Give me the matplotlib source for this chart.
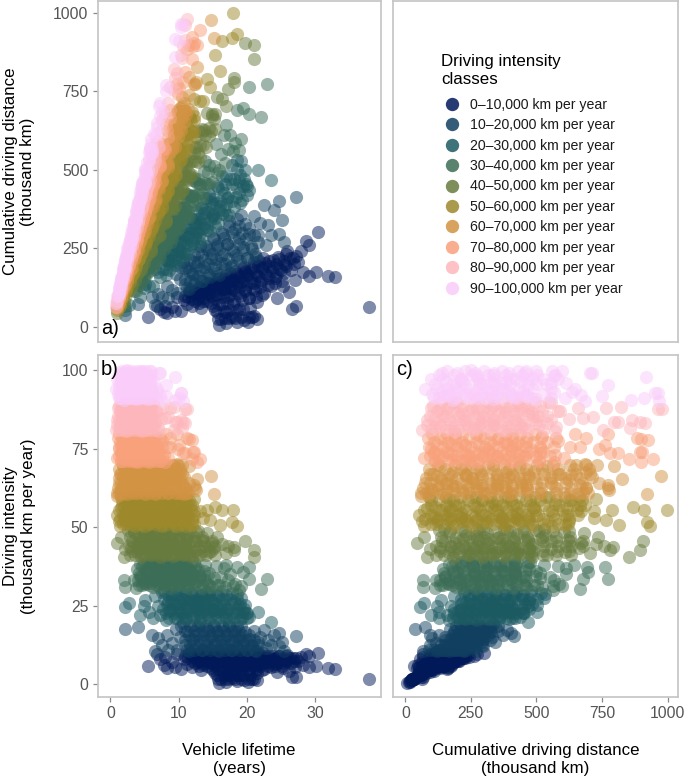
import matplotlib
matplotlib.use("Agg")
import matplotlib.pyplot as plt
from matplotlib.lines import Line2D

plt.rcParams["font.family"] = ["Liberation Sans", "DejaVu Sans"]

class_00 = [(37.9,1.7),(32.9,4.8),(31.9,5.1),(30.5,9.9),(29.1,5.6),(30.1,5.8),(29.1,9),(26.6,2.2),(27.3,2.4),(5.5,5.8),
    (15.9,.3),(21.5,3.7),(6.9,9.5),(7.2,8),(7.9,6),(8,8.5),(8.3,5.2),(9,7),(9.5,5.5),(9.8,9.7),(10.3,4.9),(10.8,8),
    (11.2,6.5),(11.5,9.8),(12,5.5),(12.3,8.5),(12.8,7),(13,9.5),(13.3,4.5),(13.6,6),(13.9,8.2),(14.2,9.9),(14.5,7.2),
    (14.8,5.2),(15.1,9),(15.3,3.5),(15.5,6.5),(15.8,8),(16,9.8),(16.2,1.5),(16.4,4.5),(16.6,7.2),(16.8,9),(17,0.8),
    (17,2.8),(17.2,5.5),(17.4,8.2),(17.6,9.7),(17.8,1.8),(18,4),(18.2,6.5),(18.4,8.8),(18.6,0.9),(18.8,3),(19,5.2),
    (19.2,7.5),(19.4,9.5),(19.6,1.2),(19.8,6),(20,8.5),(20.2,0.8),(20.4,4.5),(20.6,7),(20.8,1.5),(21,9.2),(21.2,5.5),
    (21.4,7.8),(21.5,1.2),(21.8,9.7),(22,6.5),(22.3,8.5),(22.6,4.8),(22.9,7.2),(23.2,9),(23.5,5.5),(23.8,8),(24.1,6.5),
    (24.4,3.8),(24.7,8.8),(25,7.2),(25.3,5.2),(25.6,7.8),(25.9,9.3),(26.2,4.2),(26.5,6.8),(26.8,8.2),(27.1,5.5),
    (27.5,7.5),(27.9,8.7),(28.3,6.2),(28.7,9.5),(15,8.8),(16.3,7.8),(17.5,7),(18.7,8),(19.7,8.9),(13.5,9),(14.6,8.3)]

class_01 = [(2.2,17.5),(4.1,18.1),(6.1,15.7),(6.6,10.4),(8.3,15.7),(7.6,12.5),(8.5,10.8),(7,14.8),(9,13),(9.6,17.6),
    (9.8,11),(10.2,15),(10.6,19.5),(10.9,12.5),(11.2,17),(11.5,10.5),(11.9,14.5),(12.2,18.7),(12.5,12),(12.9,16),
    (13.2,19.5),(13.5,10.8),(13.8,13.8),(14.1,17.5),(14.4,11.5),(14.7,15),(15,18.8),(15.3,12.8),(15.6,16.5),(15.9,10.5),
    (16.2,14),(16.5,18),(16.8,12),(17.1,15.5),(17.4,19.3),(17.7,10.8),(18,13.5),(18.3,17),(18.6,11.8),(18.9,15),
    (19.2,18.5),(19.5,13),(19.8,16.5),(20.1,11),(20.4,14.5),(20.7,12),(21,16.8),(21.3,10.5),(21.6,13.5),(22,15),
    (22.5,17.3),(22.8,11.5),(23.1,14),(23.5,12.5),(24,15.5),(24.8,16.2),(24.7,12),(25.2,13.5),(27.2,15.2),(25.5,10.6)]

class_02 = [(2.2,24.7),(2.7,25.8),(4.4,22),(4.9,25),(5.1,26.8),(5.6,23),(6.2,21),(6.6,28),(7,25),(7.2,22),(7.8,29.5),
    (8.1,20.5),(8.4,26),(8.8,23.5),(9.1,28.7),(9.4,21),(9.8,25.5),(10.1,29.5),(10.4,23),(10.8,27),(11.1,20.8),(11.4,25),
    (11.8,29),(12.1,22),(12.4,26.5),(12.8,23.8),(13.1,20.5),(13.4,28.5),(13.8,25),(14.1,22),(14.4,29.3),(14.8,26.8),
    (15.1,23.5),(15.4,20.8),(15.8,28),(16.1,25),(16.4,22),(16.8,27),(17.1,24),(17.4,20.5),(17.8,29),(18.1,26),(18.4,22.5),
    (18.8,24.8),(19,20.8),(19.2,27.5),(19.5,23),(19.8,25.3),(20,21),(20.3,21.5),(19.9,22.8),(18.5,28.8),(16.3,29.5),
    (13,26.5),(10.5,21),(21.7,23.1),(23.5,19.9),(15,24),(17,23),(12.5,24.5)]

class_03 = [(2,33),(2.2,30.9),(3.7,30.5),(3.5,33),(3.9,36.5),(4.2,31.5),(4.5,34),(4.9,38.5),(5.2,32),(5.5,35.8),(5.9,39.5),
    (6.2,31),(6.5,33.5),(6.9,37.5),(7.2,30.5),(7.5,35),(7.9,39),(8.2,32.5),(8.5,36.5),(8.9,30.5),(9.2,34),(9.5,38),
    (9.9,31.5),(10.2,36),(10.5,39.5),(10.9,33),(11.2,37),(11.5,30.5),(11.9,35),(12.2,39),(12.5,32.5),(12.9,36.5),(13.2,34),
    (13.5,30.5),(13.9,38),(14.2,32),(14.5,35.5),(14.9,31),(15.2,33.8),(15.5,37.5),(15.9,31.5),(16.2,34),(16.6,36.9),
    (16.8,31),(17.2,33),(17.5,35),(18,31.2),(18.6,37.2),(18.8,30),(18.3,32),(19.5,35.8),(20.3,33.4),(20.4,37.4),(23,33.6),
    (22.1,30.2),(19.2,31.2),(16.9,38),(6.5,39.8),(10,32.8),(8,34.5),(12,33.5)]

class_04 = [(1,45),(2,40.6),(1.5,47),(2.2,43),(2.6,49),(2.9,41),(3.1,45.5),(3.5,48),(3.9,42),(4.2,45),(4.5,40.5),(4.9,47.5),
    (5.2,43.5),(5.5,49.5),(5.9,41),(6.2,45.5),(6.5,48),(6.9,43),(7.2,40.5),(7.5,46.5),(7.9,49),(8.2,42),(8.5,45),(8.9,47.8),
    (9.2,40.8),(9.5,43.5),(9.9,46),(10.2,49),(10.5,41.5),(10.9,44.5),(11.2,47.5),(11.5,42.5),(11.9,40.6),(12.2,45.5),
    (12.5,48.5),(12.9,43),(13.2,41),(13.5,46),(13.9,44),(14.2,48),(14.5,42),(14.9,45),(15.2,43.5),(15.6,47),(15.4,41),
    (16.3,44.5),(16.9,41.7),(17.2,44),(18.1,43.8),(18.2,42.8),(19.8,45.7),(21,42.7),(21.1,40.4),(7,44.8),(9,44),(4,44),
    (6,43.5),(11,43),(8,41.5),(10,41.8),(3,43.5),(5.7,47.2)]

class_05 = [(1.2,52),(1,54),(1.4,50.5),(1.5,56),(1.7,58.5),(2,53),(2.3,51),(2.5,55.5),(2.8,59),(3,52.5),(3.3,57),(3.6,50.5),
    (3.9,54.5),(4.2,59.5),(4.5,52),(4.8,56.5),(5.1,50.5),(5.4,54),(5.7,58),(6,51.5),(6.3,55.5),(6.6,59.5),(6.9,53),(7.2,57),
    (7.5,50.5),(7.8,54.5),(8.1,58.5),(8.4,52),(8.7,56),(9,59.5),(9.3,53.5),(9.6,50.5),(9.9,57.5),(10.2,55),(10.5,52),
    (10.8,58.5),(11.1,50.5),(11.4,54),(11.7,57),(12,52),(12.3,59),(12.2,55),(12,50.8),(13.1,55),(14.2,55.5),(14.6,52.3),
    (15.4,56.3),(16.4,55.5),(16.1,50.7),(17.8,51.7),(18,55.5),(18.6,50.2),(13.6,53),(6,57),(8,53),(4,53),(3,55),(11,56),
    (5,58.5),(7,51.5)]

class_06 = [(1,59.9),(1,61),(1.2,64),(1.4,67),(1.6,62),(1.9,69.5),(2.1,65),(2.4,60.5),(2.7,67.5),(3,63),(3.3,69),(3.6,60.8),
    (3.9,65.5),(4.2,68),(4.5,62.5),(4.8,69.7),(5.1,60.5),(5.4,65),(5.7,67.5),(6,63),(6.3,69),(6.6,60.5),(6.9,65.5),(7.2,68),
    (7.5,62),(7.8,69.5),(8.1,64.5),(8.4,60.8),(8.7,67),(9,63),(9.3,69.8),(9.6,65),(9.9,61),(10.2,67.5),(10.5,69.8),
    (10.5,63.5),(10.8,60.5),(10.8,66),(11,62.5),(11.4,61),(12.2,63.4),(12.6,61.8),(12.7,65.2),(14.7,66.4),(15.2,60.6),
    (2.5,64),(4,64.5),(5.5,62.5),(7,63.5),(8.5,66),(3.5,66.5),(6,66),(9.5,66.5),(11.5,64.2),(12.4,62.3),(11.5,69.3),
    (9.8,70),(1.5,60.5)]

class_07 = [(1,72),(1.1,78.5),(1.3,75),(1.6,71),(1.9,78),(2.1,74),(2.4,79.5),(2.7,71.5),(3,76),(3.3,73),(3.6,79),(3.9,70.7),
    (4.2,75),(4.5,78),(4.8,72.5),(5.1,79.5),(5.4,74.5),(5.7,70.8),(6,77),(6.3,72.5),(6.6,79),(6.9,75),(7.2,71),(7.5,77.5),
    (7.8,73),(8.1,79.7),(8.3,75.5),(8,70.8),(8.8,75.6),(8.4,72),(8.8,78.5),(9.7,79.6),(9.9,74.8),(10,76),(10.6,73.7),(11,73.7),
    (11.5,78),(11.3,78.3),(11.9,77.7),(11.9,71.7),(12.1,74),(12.2,74),(12.7,70.8),(13.2,71.6),(2.5,76),(4,74),(5.5,76),(7,73.5),
    (1.5,73.5),(3.4,71),(6.5,74.5),(5,77)]

class_08 = [(.8,81),(1,84),(1.1,88),(1.4,82),(1.7,85.5),(2,89.5),(2.3,80.5),(2.6,84),(2.9,87.5),(3.2,81.5),(3.5,85),(3.8,89),
    (4.1,82.5),(4.4,86.5),(4.7,80.5),(5,84),(5.3,88),(5.6,81.5),(5.9,85.5),(6.2,89.5),(6.5,83),(6.8,87),(7.1,80.5),(7.4,84.5),
    (7.5,88),(7,82),(8,84.6),(8.4,85),(8.7,87.8),(9.3,88.3),(9.3,81),(9.5,83.6),(9.7,83.5),(10.3,84),(10.5,81.7),(10.7,83.5),
    (11,83),(11,87.5),(11.2,87.5),(2.5,86),(4,84.5),(5.5,86),(3.5,83),(6,83),(1.5,87.5),(4.8,89)]

class_09 = [(.8,94),(1,97),(1.2,91),(1.4,99),(1.7,94),(2,90.5),(2.2,97),(2.5,100),(2.8,92.5),(3.1,95.5),(3.4,98.5),(3.7,90.8),
    (4,94),(4.3,97),(4.6,99.8),(4.9,92),(5.2,95.5),(5.5,90.8),(5.8,98),(6.1,93),(6,99.8),(6.4,96),(6.7,91),(6.9,94),(7.2,99),
    (7.3,92),(6.85,93),(7.1,99),(7.6,90),(8.1,95.2),(8.2,91.7),(9.4,97.7),(9.5,90.5),(10,91.2),(10.3,92.6),(10.4,92.8),
    (10.7,90.3),(2,95),(3.5,93),(5,97.5),(3,91),(4.5,91.5),(1.6,92),(2.8,98),(3.8,96),(5.8,96)]

# crowded parts of each band: (intensity, lifetimes seen at about that intensity)
dense_00 = [(9.8,[11.7,13,14.4,15.6,17,18.3,19.6,21,22.4]),
    (9,[11,12.2,13.3,14.3,15.5,16.4,17.5,18.6,19.7,20.6,21.7,22.7,23.8,24.6,25.7]),
    (8.3,[11.4,12.6,13.7,14.8,15.9,16.9,18,19,20.1,21.2,22.2,23.3,24.3,25.4,26.4,27.2]),
    (7.5,[12,13.1,14.2,15.2,16.3,17.4,18.5,19.5,20.6,21.6,22.7,23.7,24.8,25.8,26.9]),
    (6.7,[12.4,13.6,14.7,15.8,16.8,17.9,19,20.1,21.1,22.2,23.2,24.3,25.4]),
    (5.8,[13,14.2,15.4,16.5,17.6,18.7,19.8,20.9,22,23.1,24.2,25.2]),
    (4.5,[15,16,17.1,18.2,19.3,20.3,21.3,22.3]),
    (3,[15.6,16.6,17.5,18.5,19.5,20.5]),
    (1.6,[15.8,16.8,17.4,18.3,19.2,20.3,21])]
dense_01 = [(11,[11.2,12.3,13.4,14.6,15.7,16.8,17.9,19,20.1,21.2]),
    (12.5,[11.7,12.9,14,15.1,16.2,17.3,18.4,19.5,20.6,21.7]),
    (14,[10.9,12.1,13.2,14.3,15.5,16.6,17.7,18.8,19.9,21]),
    (15.5,[11.5,12.6,13.7,14.9,16,17.1,18.2,19.3,20.4]),
    (17,[11,12.2,13.4,14.5,15.6,16.7,17.8,18.9]),
    (18.5,[10.4,11.6,12.8,14,15.2,16.3,17.4,18.5])]
dense_02 = [(21,[8.6,9.8,11,12.2,13.4,14.6,15.8,17,18.2,19.3]),
    (22.5,[8.2,9.4,10.6,11.8,13,14.2,15.4,16.6,17.8,18.9,20]),
    (24,[7.7,8.9,10.1,11.3,12.5,13.7,14.9,16.1,17.3,18.5,19.6]),
    (25.5,[8.3,9.5,10.7,11.9,13.1,14.3,15.5,16.7,17.9,19]),
    (27,[7.9,9.1,10.3,11.5,12.7,13.9,15.1,16.3,17.5,18.6]),
    (28.5,[8.5,9.7,10.9,12.1,13.3,14.5,15.7,16.9]),
    (23.2,[8.6,9.9,11.2,12.4,13.6,14.8,16]),
    (26.2,[8.9,10.2,11.4,12.6,13.8,15]),
    (29.3,[7.6,9.3,11,12.6,14])]
dense_03 = [(31.5,[4.6,5.7,6.8,7.9,9,10.1,11.2,12.3,13.4,14.5,15.6]),
    (33,[4,5.1,6.2,7.3,8.4,9.5,10.6,11.7,12.8,13.9]),
    (34.5,[4.4,5.5,6.6,7.7,8.8,9.9,11,12.1,13.2,14.3]),
    (36,[5,6.1,7.2,8.3,9.4,10.5,11.6,12.7,13.8]),
    (37.5,[4.7,5.8,6.9,8,9.1,10.2,11.3,12.4]),
    (39,[5.4,6.5,7.6,8.7,9.8,10.9,12]),
    (32.3,[4.9,6,7.1,8.1,9.2,10.3,11.4]),
    (35.3,[4.2,5.3,6.4,7.5,8.6,9.7,10.8,11.9]),
    (38.2,[4.4,5.6,6.7,7.8,8.9,10,11])]
dense_04 = [(41,[3.6,4.7,5.9,7.1,8.2,9.4,10.6,11.7,12.8,14]),
    (42.5,[3.1,4.3,5.5,6.6,7.8,9,10.1,11.3,12.4,13.6,14.7]),
    (44,[2.7,3.9,5,6.2,7.4,8.5,9.7,10.9,12,13.2,14.4,15.4]),
    (45.5,[3.3,4.5,5.6,6.8,8,9.1,10.3,11.5,12.6,13.8,14.9]),
    (47,[2.9,4.1,5.2,6.4,7.6,8.7,9.9,11.1,12.2,13.4]),
    (48.7,[3.5,4.7,5.8,7,8.2,9.3,10.5,11.6,12.8]),
    (41.8,[4.9,5.9,7,8.1,9.1,10.2,11.2]),
    (43.3,[4.6,5.7,6.7,7.8,8.8,9.9,10.9]),
    (46.2,[4.8,5.9,6.9,8,9,10.1,11.1]),
    (49.5,[3,4.3,6,7.6,9.1,10.7])]
dense_05 = [(51,[1.9,2.8,3.8,4.7,5.7,6.6,7.6,8.5,9.5,10.4,11.4,12.2]),
    (52.5,[1.4,2.4,3.3,4.3,5.2,6.2,7.1,8.1,9,10,10.9,11.9]),
    (54,[1.8,2.8,3.7,4.7,5.6,6.6,7.5,8.5,9.4,10.4,11.3,12.2]),
    (55.5,[1.3,2.3,3.2,4.2,5.1,6.1,7,8,8.9,9.9,10.8,11.8]),
    (57,[1.7,2.7,3.6,4.6,5.5,6.5,7.4,8.4,9.3,10.3,11.2,12]),
    (58.5,[2.2,3.1,4.1,5,6,6.9,7.9,8.8,9.8,10.7,11.5]),
    (59.6,[1.5,2.6,3.5,4.5,5.4,6.4,7.3,8.3,9.2,10.2,11.1]),
    (51.8,[2.3,3.3,4.2,5.2,6.1,7.1,8,9]),
    (53.3,[2.1,3.1,4,5,5.9,6.9,7.8,8.8]),
    (56.3,[2,3,3.9,4.9,5.8,6.8,7.7,8.7])]
dense_06 = [(61,[1.3,2.2,3.1,4,4.9,5.8,6.7,7.6,8.5,9.4,10.3,11.1]),
    (62.5,[1.1,2,2.9,3.8,4.7,5.6,6.5,7.4,8.3,9.2,10.1,11]),
    (64,[1.5,2.4,3.3,4.2,5.1,6,6.9,7.8,8.7,9.6,10.5]),
    (65.5,[1.2,2.1,3,3.9,4.8,5.7,6.6,7.5,8.4,9.3,10.2]),
    (67,[1.6,2.5,3.4,4.3,5.2,6.1,7,7.9,8.8,9.7,10.5]),
    (68.5,[1.3,2.2,3.1,4,4.9,5.8,6.7,7.6,8.5,9.4,10.2]),
    (69.7,[1.8,2.7,3.6,4.5,5.4,6.3,7.2,8.1,9,9.9]),
    (61.8,[1.7,2.6,3.5,4.4,5.3,6.2,7.1]),
    (63.3,[1.9,2.8,3.7,4.6,5.5,6.4,7.3]),
    (66.3,[1.8,2.6,3.5,4.4,5.3,6.2,7.1])]
dense_07 = [(71,[1.6,2.3,3,3.7,4.4,5.1,5.8,6.5,7.2]),
    (72.5,[1.3,2,2.7,3.4,4.1,4.8,5.5,6.2,6.9,7.6]),
    (74,[1.5,2.2,2.9,3.6,4.3,5,5.7,6.4,7.1]),
    (75.5,[1.2,1.9,2.6,3.3,4,4.7,5.4,6.1,6.8,7.5]),
    (77,[1.4,2.1,2.8,3.5,4.2,4.9,5.6,6.3,7]),
    (78.5,[1.7,2.4,3.1,3.8,4.5,5.2,5.9,6.6,7.3]),
    (79.7,[1.3,2,2.7,3.4,4.1,4.8,5.5,6.2]),
    (71.8,[1.8,2.5,3.2,3.9,4.6,5.3,6]),
    (73.3,[1.7,2.4,3.1,3.8,4.5,5.2,5.9]),
    (76.3,[1.6,2.3,3,3.7,4.4,5.1,5.8])]
dense_08 = [(81,[1.2,1.9,2.5,3.2,3.9,4.5,5.2,5.8,6.5]),
    (82.5,[1,1.6,2.3,2.9,3.6,4.2,4.9,5.5,6.2]),
    (84,[1.3,2,2.7,3.3,4,4.6,5.3,5.9,6.6]),
    (85.5,[1.1,1.8,2.4,3.1,3.7,4.4,5,5.7,6.3]),
    (87,[1.4,2.1,2.8,3.4,4.1,4.7,5.4,6,6.7]),
    (88.5,[1.2,1.9,2.5,3.2,3.8,4.5,5.1,5.8]),
    (89.7,[1.5,2.2,2.9,3.5,4.2,4.8,5.5,6.1]),
    (81.8,[1.6,2.2,2.9,3.5,4.1,4.8,5.4]),
    (83.3,[1.5,2.1,2.8,3.4,4,4.6,5.2]),
    (86.3,[1.6,2.3,3,3.6,4.2,4.9,5.6]),
    (88,[1.8,2.4,3.1,3.7,4.3,5])]
dense_09 = [(91,[1.4,2.1,2.7,3.4,4,4.7,5.3,6.1]),
    (92.5,[1.1,1.8,2.5,3.1,3.8,4.4,5,5.7]),
    (94,[1.3,2,2.6,3.3,3.9,4.6,5.2,5.9]),
    (95.5,[1.2,1.9,2.4,3,3.6,4.2,4.9,5.6]),
    (97,[1.5,2.2,2.8,3.5,4.1,4.8,5.4,6]),
    (98.5,[1.3,1.9,2.6,3.2,3.9,4.5,5.1,5.8]),
    (99.7,[1.6,2.3,3,3.7,4.3,5,5.6]),
    (91.8,[1.7,2.4,3.1,3.7,4.4,5]),
    (93.3,[1.5,2.2,2.9,3.5,4.2,4.8]),
    (96.3,[1.6,2.3,2.9,3.4,4,4.6]),
    (99,[2,2.7,3.4,4,4.6])]

intensity_classes = [class_00, class_01, class_02, class_03, class_04, class_05, class_06, class_07, class_08, class_09]
dense_rows = [dense_00, dense_01, dense_02, dense_03, dense_04, dense_05, dense_06, dense_07, dense_08, dense_09]
class_labels = ["0\u201310,000 km per year", "10\u201320,000 km per year", "20\u201330,000 km per year",
    "30\u201340,000 km per year", "40\u201350,000 km per year", "50\u201360,000 km per year",
    "60\u201370,000 km per year", "70\u201380,000 km per year", "80\u201390,000 km per year",
    "90\u2013100,000 km per year"]
class_colours = ["#011959", "#103F60", "#1C5A62", "#3C6D56", "#687B3E", "#9D892B", "#D29343", "#F8A17B", "#FDB7BC", "#FACCFA"]

W, H = 685, 777
def make_axes(left, top, right, bottom):
    ax = fig.add_axes([left / W, 1 - bottom / H, (right - left) / W, (bottom - top) / H])
    for s in ax.spines.values():
        s.set_color("#c4c4c4")
        s.set_linewidth(1.2)
    ax.tick_params(colors="#8a8a8a", labelcolor="#555555", labelsize=11.3, length=3.5, width=0.9, pad=3)
    return ax

fig = plt.figure(figsize=(W / 100, H / 100), dpi=100)
ax_a = make_axes(97.5, 1, 381, 342)
ax_leg = make_axes(393, 1, 678, 342)
ax_b = make_axes(97.5, 355, 381, 697)
ax_c = make_axes(393, 355, 678, 697)

SIZE = 90
ALPHA = 0.5
for points, rows, colour in zip(intensity_classes, dense_rows, class_colours):
    all_points = list(points) + [(l, i) for i, lifetimes in rows for l in lifetimes]
    life = [p[0] for p in all_points]
    inten = [p[1] for p in all_points]
    # cumulative distance is lifetime times intensity in the source data
    dist = [l * i for l, i in zip(life, inten)]
    ax_a.scatter(life, dist, s=SIZE, c=colour, alpha=ALPHA, linewidths=0)
    ax_b.scatter(life, inten, s=SIZE, c=colour, alpha=ALPHA, linewidths=0)
    ax_c.scatter(dist, inten, s=SIZE, c=colour, alpha=ALPHA, linewidths=0)

ax_a.set_xlim(-1.9, 39.7)
ax_b.set_xlim(-1.9, 39.7)
ax_a.set_ylim(-48, 1038)
ax_b.set_ylim(-4.1, 104.8)
ax_c.set_ylim(-4.1, 104.8)
ax_c.set_xlim(-47, 1040)

ax_a.set_xticks([])
ax_a.set_yticks([0, 250, 500, 750, 1000])
ax_b.set_xticks([0, 10, 20, 30])
ax_b.set_yticks([0, 25, 50, 75, 100])
ax_c.set_xticks([0, 250, 500, 750, 1000])
ax_c.set_yticks([])
ax_leg.set_xticks([])
ax_leg.set_yticks([])

ax_a.set_ylabel("Cumulative driving distance\n(thousand km)", fontsize=12.2, labelpad=13)
ax_b.set_ylabel("Driving intensity\n(thousand km per year)", fontsize=12.2, labelpad=19)
ax_b.set_xlabel("Vehicle lifetime\n(years)", fontsize=12.2, labelpad=16)
ax_c.set_xlabel("Cumulative driving distance\n(thousand km)", fontsize=12.2, labelpad=16)

ax_a.text(0.012, 0.012, "a)", transform=ax_a.transAxes, fontsize=14.5, va="bottom", ha="left")
ax_b.text(0.012, 0.985, "b)", transform=ax_b.transAxes, fontsize=14.5, va="top", ha="left")
ax_c.text(0.012, 0.985, "c)", transform=ax_c.transAxes, fontsize=14.5, va="top", ha="left")

handles = [Line2D([], [], ls="", marker="o", ms=9.6, mfc=c, mec="none", alpha=0.85) for c in class_colours]
leg = ax_leg.legend(handles, class_labels, loc="upper left", bbox_to_anchor=(0.168, 0.844), frameon=False,
    fontsize=10.2, title="Driving intensity\nclasses", title_fontsize=12.2, alignment="left",
    labelspacing=0.455, handletextpad=0.55, handlelength=1.5, borderpad=0, borderaxespad=0)
leg._legend_box.sep = 8
for t in leg.get_texts():
    t.set_color("#1a1a1a")

fig.savefig("out.png", dpi=100)
